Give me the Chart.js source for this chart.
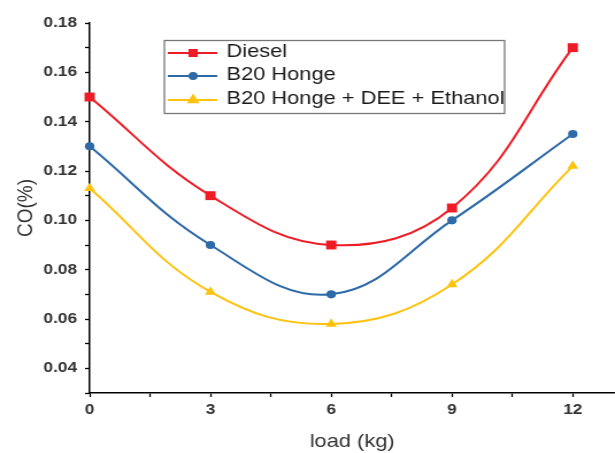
<!DOCTYPE html>
<html lang="en">
<head>
    <meta charset="UTF-8">
    <title>CO vs load</title>
    <script src="https://cdn.jsdelivr.net/npm/chart.js"></script>
    <style>
        html, body { margin: 0; padding: 0; background: #fff; overflow: hidden; }
        #wrap { width: 615px; height: 453px; overflow: hidden; }
        /* the original figure is a little wider than tall in its text, so stretch horizontally */
        #coChart { transform: scaleX(1.1495); transform-origin: 0 0; }
    </style>
</head>
<body>
    <div id="wrap"><canvas id="coChart" width="541" height="453"></canvas></div>

    <script>
        // data
        const loads = [0, 3, 6, 9, 12];
        const diesel = [0.150, 0.110, 0.090, 0.105, 0.170];
        const b20Honge = [0.130, 0.090, 0.070, 0.100, 0.135];
        const b20DeeEthanol = [0.113, 0.071, 0.058, 0.074, 0.122];

        const seriesLabels = ['Diesel', 'B20 Honge', 'B20 Honge + DEE + Ethanol'];
        const xTicks = [0, 1.5, 3, 4.5, 6, 7.5, 9, 10.5, 12];
        const yTicks = [0.03, 0.04, 0.05, 0.06, 0.07, 0.08, 0.09, 0.10, 0.11, 0.12, 0.13, 0.14, 0.15, 0.16, 0.17, 0.18];

        const colors = ['#ee1c25', '#2e69a8', '#ffc20e'];
        const markers = ['rect', 'circle', 'triangle'];
        const radii = [6.3, 4.1, 5.6];

        function toPoints(vals) {
            return loads.map((x, i) => ({ x: x, y: vals[i] }));
        }

        const fontFam = '"Liberation Sans", Arial, sans-serif';

        // legend box drawn inside the plot like in the original figure
        const boxLegend = {
            id: 'boxLegend',
            afterDraw(chart) {
                const ctx = chart.ctx;
                ctx.save();
                ctx.fillStyle = '#fff';
                ctx.fillRect(143, 40, 296, 73);
                ctx.strokeStyle = '#777';
                ctx.lineWidth = 1.3;
                ctx.strokeRect(143, 40.5, 296, 73);
                const rows = [53, 76, 100];
                const small = [4.3, 3, 4.4];
                ctx.font = '19px ' + fontFam;
                ctx.textBaseline = 'middle';
                seriesLabels.forEach((lab, i) => {
                    const y = rows[i];
                    ctx.strokeStyle = colors[i];
                    ctx.lineWidth = 2;
                    ctx.beginPath();
                    ctx.moveTo(146, y);
                    ctx.lineTo(189, y);
                    ctx.stroke();
                    Chart.helpers.drawPoint(ctx, {
                        pointStyle: markers[i], radius: small[i], rotation: 0, borderWidth: 1
                    }, 168, y);
                    ctx.fillStyle = colors[i];
                    ctx.fill();
                    ctx.fillStyle = '#1a1a1a';
                    ctx.fillText(lab, 197, y - 1);
                });
                ctx.restore();
            }
        };

        const tickFont = { family: fontFam, size: 15, weight: 'bold' };
        const titleFont = { family: fontFam, size: 19 };

        new Chart(document.getElementById('coChart'), {
            type: 'line',
            data: {
                datasets: [diesel, b20Honge, b20DeeEthanol].map((vals, i) => ({
                    label: seriesLabels[i],
                    data: toPoints(vals),
                    borderColor: colors[i],
                    backgroundColor: colors[i],
                    borderWidth: 2,
                    pointStyle: markers[i],
                    pointRadius: radii[i],
                    pointBorderWidth: 0,
                    tension: 0.4,
                    clip: false
                }))
            },
            options: {
                responsive: false,
                animation: false,
                layout: { padding: { top: 23, right: 0, left: 0, bottom: 0 } },
                plugins: { legend: { display: false }, tooltip: { enabled: false } },
                scales: {
                    x: {
                        type: 'linear',
                        min: 0,
                        max: 13.04,
                        afterBuildTicks: s => { s.ticks = xTicks.map(v => ({ value: v })); },
                        afterFit: s => { s.height = 60; },
                        border: { color: '#000', width: 1.5 },
                        grid: { drawOnChartArea: false, drawTicks: true, tickLength: 4, tickColor: '#000', tickWidth: 1.3 },
                        ticks: {
                            autoSkip: false,
                            maxRotation: 0,
                            padding: 4,
                            color: '#333',
                            font: tickFont,
                            callback: v => (v % 3 === 0 ? String(v) : '')
                        },
                        title: { display: true, text: 'load (kg)', color: '#333', font: titleFont, padding: { top: 4, bottom: 0 } }
                    },
                    y: {
                        type: 'linear',
                        min: 0.03,
                        max: 0.18,
                        afterBuildTicks: s => { s.ticks = yTicks.map(v => ({ value: v })); },
                        afterFit: s => { s.width = 78; },
                        border: { color: '#000', width: 1.5 },
                        grid: { drawOnChartArea: false, drawTicks: true, tickLength: 4, tickColor: '#000', tickWidth: 1.3 },
                        ticks: {
                            autoSkip: false,
                            padding: 7,
                            color: '#333',
                            font: tickFont,
                            callback: v => (Math.round(v * 100) % 2 === 0 ? v.toFixed(2) : '')
                        },
                        title: { display: true, text: 'CO(%)', color: '#333', font: titleFont, padding: { top: 11, bottom: 4 } }
                    }
                }
            },
            plugins: [boxLegend]
        });
    </script>
</body>
</html>
